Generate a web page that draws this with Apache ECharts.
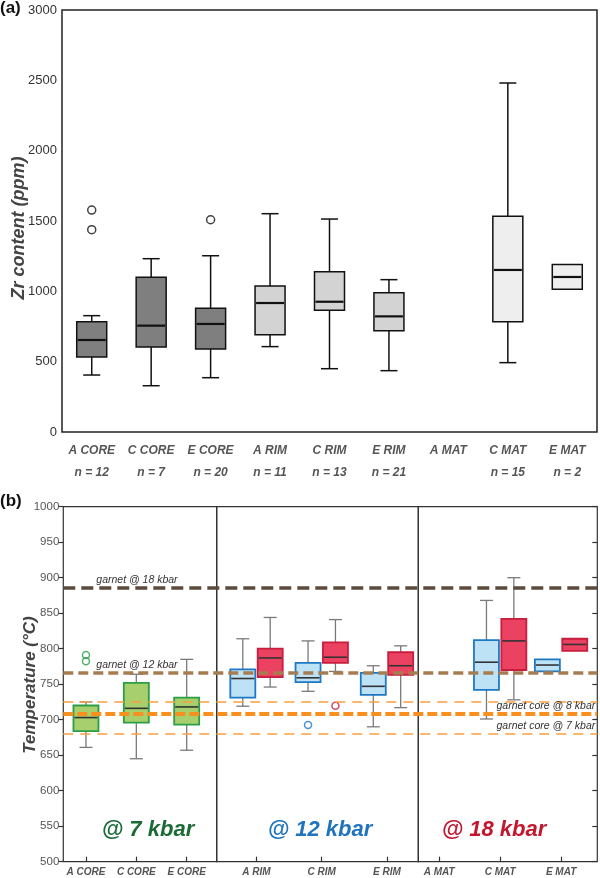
<!DOCTYPE html>
<html>
<head>
<meta charset="utf-8">
<script src="https://cdn.jsdelivr.net/npm/echarts@6.0.0/dist/echarts.min.js"></script>
<style>
  html, body { margin: 0; padding: 0; background: #fff; }
  #chart { width: 600px; height: 878px; }
</style>
</head>
<body>
<div id="chart"></div>
<script>
// (a) Zr content, box = [min, Q1, median, Q3, max]
var zrCats = ['A CORE', 'C CORE', 'E CORE', 'A RIM', 'C RIM', 'E RIM', 'A MAT', 'C MAT', 'E MAT'];
var zrN = [12, 7, 20, 11, 13, 21, null, 15, 2];
var zrGroup = ['core', 'core', 'core', 'rim', 'rim', 'rim', 'mat', 'mat', 'mat'];
var zrBoxes = [
  [405, 533, 654, 784, 827],
  [329, 604, 756, 1100, 1232],
  [386, 590, 768, 879, 1253],
  [607, 692, 917, 1038, 1552],
  [450, 865, 926, 1140, 1514],
  [436, 720, 822, 990, 1083],
  null,
  [493, 784, 1152, 1533, 2481],
  [1014, 1014, 1102, 1190, 1190]
];
var zrOutliers = [[0, 1578], [0, 1438], [2, 1509]];

// (b) temperature panels
var coreCats = ['A CORE', 'C CORE', 'E CORE'];
var rimCats = ['A RIM', 'C RIM', 'E RIM'];
var matCats = ['A MAT', 'C MAT', 'E MAT'];
var coreT = [[661, 684, 703, 720, 725], [645, 696, 716, 752, 764], [657, 693, 718, 731, 785]];
var rimBlueT = [[719, 731, 758, 771, 814], [740, 753, 759, 780, 811], [690, 735, 747, 766, 776]];
var rimRedT = [[746, 760, 787, 800, 844], [768, 780, 788, 809, 841], [717, 763, 776, 795, 804]];
var matBlueT = [null, [701, 742, 781, 812, 868], [768, 768, 777, 785, 785]];
var matRedT = [null, [728, 770, 811, 842, 900], [797, 797, 806, 814, 814]];
var coreOut = [[0, 791], [0, 782.5]];
var rimBlueOut = [[1, 692.5]];
var rimRedOut = [[1, 719.5]];

var refValues = [885.5, 766, 725, 708, 680];
var refLabels = ['garnet @ 18 kbar', 'garnet @ 12 kbar', '', 'garnet core @ 8 kbar', 'garnet core @ 7 kbar'];

var FONT = '"Liberation Sans", Arial, sans-serif';

function toData(boxes) {
  var out = [];
  boxes.forEach(function (b, i) { if (b) out.push([i].concat(b)); });
  return out;
}

function boxItem(st) {
  return function (params, api) {
    var i = api.value(0);
    var c = [];
    for (var d = 1; d <= 5; d++) c.push(api.coord([i, api.value(d)]));
    var x = c[0][0] + (st.offset || 0);
    var w = st.width, cap = st.cap;
    var fill = typeof st.fill === 'function' ? st.fill(i) : st.fill;
    var ws = { stroke: st.whisker, lineWidth: st.wWidth };
    var ch = [];
    if (c[4][1] < c[3][1] - 0.5) {
      ch.push({ type: 'line', shape: { x1: x, y1: c[3][1], x2: x, y2: c[4][1] }, style: ws });
      ch.push({ type: 'line', shape: { x1: x - cap / 2, y1: c[4][1], x2: x + cap / 2, y2: c[4][1] }, style: ws });
    }
    if (c[0][1] > c[1][1] + 0.5) {
      ch.push({ type: 'line', shape: { x1: x, y1: c[1][1], x2: x, y2: c[0][1] }, style: ws });
      ch.push({ type: 'line', shape: { x1: x - cap / 2, y1: c[0][1], x2: x + cap / 2, y2: c[0][1] }, style: ws });
    }
    ch.push({ type: 'rect', shape: { x: x - w / 2, y: c[3][1], width: w, height: c[1][1] - c[3][1] },
      style: { fill: fill, stroke: st.stroke, lineWidth: st.bWidth } });
    ch.push({ type: 'line', shape: { x1: x - w / 2 + 1, y1: c[2][1], x2: x + w / 2 - 1, y2: c[2][1] },
      style: { stroke: st.median, lineWidth: st.mWidth } });
    return { type: 'group', children: ch };
  };
}

var zrFill = { core: '#7f7f7f', rim: '#d3d3d3', mat: '#eeeeee' };
var green = { fill: '#a8cf6d', stroke: '#2b9e48' };
var blue = { fill: '#bde2f6', stroke: '#1f78c4' };
var red = { fill: '#ec4262', stroke: '#c81d3c' };

var bottomBox = { width: 25, cap: 13, whisker: '#7a7a7a', wWidth: 1.3, bWidth: 1.8, median: '#333', mWidth: 1.6 };
function panelStyle(col, offset) {
  return boxItem(Object.assign({}, bottomBox, { fill: col.fill, stroke: col.stroke, offset: offset }));
}

var labelStyle = { fontFamily: FONT, fontStyle: 'italic', fontWeight: 'bold', color: '#555' };
var OFF = 13.7;
var plain = function (v) { return String(v); };

function panelX(idx, cats, min, max) {
  return {
    gridIndex: idx, type: 'value', min: min, max: max,
    axisLine: { show: false, onZero: false }, splitLine: { show: false },
    axisTick: { customValues: [0, 1, 2], inside: true, length: 5, lineStyle: { color: '#333', width: 1.2 } },
    axisLabel: Object.assign({ customValues: [0, 1, 2], fontSize: 10, margin: 6,
      formatter: function (v) { return cats[Math.round(v)]; } }, labelStyle)
  };
}

var refStyles = [
  { color: '#5b4a3e', width: 3.5, type: [12, 6] },
  { color: '#a67d52', width: 3.5, type: [10, 5] },
  { color: '#f9a03f', width: 1.5, type: [10, 7] },
  { color: '#f7901e', width: 4, type: [10, 4] },
  { color: '#f9a03f', width: 1.5, type: [10, 7] }
];

var refData = refValues.map(function (v, i) {
  var atStart = i < 2;
  return {
    yAxis: v,
    lineStyle: refStyles[i],
    label: {
      show: !!refLabels[i],
      formatter: refLabels[i],
      position: atStart ? 'insideStartTop' : 'insideEndTop',
      distance: 2,
      padding: atStart ? [0, 0, 0, 31] : [0, 0, 0, 0],
      fontFamily: FONT, fontStyle: 'italic', fontSize: 10.5, color: '#333'
    }
  };
});

var chart = echarts.init(document.getElementById('chart'));
chart.setOption({
  backgroundColor: '#fff',
  animation: false,
  grid: [
    { left: 62, top: 10, width: 535, height: 422, show: true, borderColor: '#222', borderWidth: 1.5 },
    { left: 63.3, top: 506.7, width: 153.4, height: 355, show: true, borderColor: '#333', borderWidth: 1.2 },
    { left: 216.7, top: 506.7, width: 201.6, height: 355, show: true, borderColor: '#333', borderWidth: 1.2 },
    { left: 418.3, top: 506.7, width: 179, height: 355, show: true, borderColor: '#333', borderWidth: 1.2 },
    { left: 63.3, top: 506.7, width: 534, height: 355, show: false }
  ],
  xAxis: [
    {
      gridIndex: 0, type: 'category', data: zrCats, position: 'bottom',
      axisLine: { show: false, onZero: false },
      axisTick: { alignWithLabel: true, inside: true, length: 5, lineStyle: { color: '#222', width: 1.2 } },
      axisLabel: Object.assign({ fontSize: 12, lineHeight: 22, margin: 8, interval: 0,
        formatter: function (v, i) { return zrN[i] ? v + '\nn = ' + zrN[i] : v; } }, labelStyle)
    },
    {
      gridIndex: 0, type: 'category', data: zrCats, position: 'top',
      axisLine: { show: false, onZero: false }, axisLabel: { show: false },
      axisTick: { alignWithLabel: true, inside: true, length: 5, lineStyle: { color: '#222', width: 1.2 } }
    },
    panelX(1, coreCats, -0.45, 2.596),
    panelX(2, rimCats, -0.61, 2.48),
    panelX(3, matCats, -0.344, 2.595),
    { gridIndex: 4, type: 'value', min: 0, max: 1, show: false }
  ],
  yAxis: [
    {
      gridIndex: 0, type: 'value', min: 0, max: 3000, interval: 500, position: 'left',
      axisLine: { show: false, onZero: false }, splitLine: { show: false },
      axisTick: { inside: false, length: 4, lineStyle: { color: '#222', width: 1.2 } },
      axisLabel: { fontFamily: FONT, fontSize: 13, color: '#333', margin: 5, formatter: plain }
    },
    {
      gridIndex: 0, type: 'value', min: 0, max: 3000, interval: 500, position: 'right',
      axisLine: { show: false, onZero: false }, splitLine: { show: false }, axisLabel: { show: false },
      axisTick: { inside: true, length: 5, lineStyle: { color: '#222', width: 1.2 } }
    },
    {
      gridIndex: 1, type: 'value', min: 500, max: 1000, interval: 50, position: 'left',
      axisLine: { show: false, onZero: false }, splitLine: { show: false },
      axisTick: { inside: false, length: 5, lineStyle: { color: '#333', width: 1.2 } },
      axisLabel: { fontFamily: FONT, fontSize: 11.5, color: '#555', margin: 4, formatter: plain }
    },
    { gridIndex: 2, type: 'value', min: 500, max: 1000, show: false },
    {
      gridIndex: 3, type: 'value', min: 500, max: 1000, interval: 50, position: 'right',
      axisLine: { show: false, onZero: false }, splitLine: { show: false }, axisLabel: { show: false },
      axisTick: { inside: true, length: 5, lineStyle: { color: '#333', width: 1.2 } }
    },
    { gridIndex: 4, type: 'value', min: 500, max: 1000, show: false }
  ],
  series: [
    {
      type: 'custom', xAxisIndex: 0, yAxisIndex: 0, z: 3,
      encode: { x: 0, y: [1, 2, 3, 4, 5] },
      renderItem: boxItem({ width: 30, cap: 17, whisker: '#111', wWidth: 1.5, bWidth: 1.5, median: '#111', mWidth: 2.2, stroke: '#111',
        fill: function (i) { return zrFill[zrGroup[i]]; } }),
      data: toData(zrBoxes)
    },
    {
      type: 'scatter', xAxisIndex: 0, yAxisIndex: 0, z: 3, symbol: 'circle', symbolSize: 8,
      itemStyle: { color: 'rgba(0,0,0,0)', borderColor: '#111', borderWidth: 1.5 },
      data: zrOutliers
    },
    {
      type: 'scatter', xAxisIndex: 5, yAxisIndex: 5, z: 1, data: [],
      markLine: { silent: true, symbol: ['none', 'none'], data: refData }
    },
    {
      type: 'custom', xAxisIndex: 2, yAxisIndex: 2, z: 3,
      encode: { x: 0, y: [1, 2, 3, 4, 5] },
      renderItem: panelStyle(green, 0), data: toData(coreT)
    },
    {
      type: 'custom', xAxisIndex: 3, yAxisIndex: 3, z: 3,
      encode: { x: 0, y: [1, 2, 3, 4, 5] },
      renderItem: panelStyle(blue, -OFF), data: toData(rimBlueT)
    },
    {
      type: 'custom', xAxisIndex: 3, yAxisIndex: 3, z: 3,
      encode: { x: 0, y: [1, 2, 3, 4, 5] },
      renderItem: panelStyle(red, OFF), data: toData(rimRedT)
    },
    {
      type: 'custom', xAxisIndex: 4, yAxisIndex: 4, z: 3,
      encode: { x: 0, y: [1, 2, 3, 4, 5] },
      renderItem: panelStyle(blue, -OFF), data: toData(matBlueT)
    },
    {
      type: 'custom', xAxisIndex: 4, yAxisIndex: 4, z: 3,
      encode: { x: 0, y: [1, 2, 3, 4, 5] },
      renderItem: panelStyle(red, OFF), data: toData(matRedT)
    },
    {
      type: 'scatter', xAxisIndex: 2, yAxisIndex: 2, z: 4, symbol: 'circle', symbolSize: 7,
      itemStyle: { color: 'rgba(0,0,0,0)', borderColor: green.stroke, borderWidth: 1.5 },
      data: coreOut
    },
    {
      type: 'scatter', xAxisIndex: 3, yAxisIndex: 3, z: 4, symbol: 'circle', symbolSize: 7, symbolOffset: [-OFF, 0],
      itemStyle: { color: 'rgba(0,0,0,0)', borderColor: blue.stroke, borderWidth: 1.5 },
      data: rimBlueOut
    },
    {
      type: 'scatter', xAxisIndex: 3, yAxisIndex: 3, z: 4, symbol: 'circle', symbolSize: 7, symbolOffset: [OFF, 0],
      itemStyle: { color: 'rgba(0,0,0,0)', borderColor: red.stroke, borderWidth: 1.5 },
      data: rimRedOut
    }
  ],
  graphic: [
    { type: 'text', left: 0, top: 0, style: { text: '(a)', font: 'bold 17px ' + FONT, fill: '#111' } },
    { type: 'text', left: 0, top: 493, style: { text: '(b)', font: 'bold 17px ' + FONT, fill: '#111' } },
    { type: 'text', x: 19, y: 228, rotation: Math.PI / 2,
      style: { text: 'Zr content (ppm)', font: 'italic bold 18px ' + FONT, fill: '#444', align: 'center', verticalAlign: 'middle' } },
    { type: 'text', x: 30, y: 685, rotation: Math.PI / 2,
      style: { text: 'Temperature (°C)', font: 'italic bold 17px ' + FONT, fill: '#444', align: 'center', verticalAlign: 'middle' } },
    { type: 'text', x: 148, y: 830,
      style: { text: '@ 7 kbar', font: 'italic bold 22px ' + FONT, fill: '#1b6b37', align: 'center', verticalAlign: 'middle' } },
    { type: 'text', x: 320, y: 830,
      style: { text: '@ 12 kbar', font: 'italic bold 22px ' + FONT, fill: '#1f74bd', align: 'center', verticalAlign: 'middle' } },
    { type: 'text', x: 494, y: 830,
      style: { text: '@ 18 kbar', font: 'italic bold 22px ' + FONT, fill: '#c2172f', align: 'center', verticalAlign: 'middle' } }
  ]
});
</script>
</body>
</html>
